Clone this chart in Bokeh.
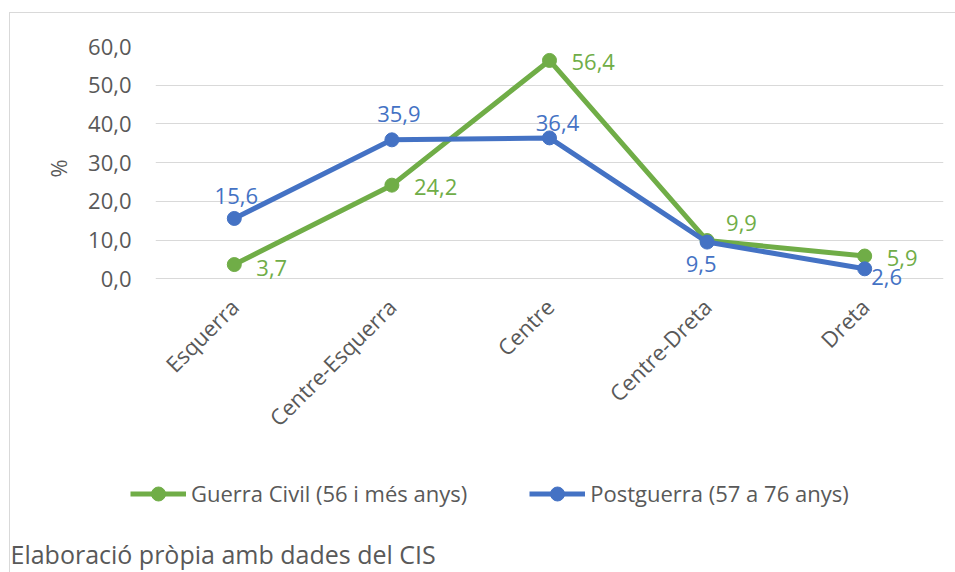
import math
from bokeh.plotting import figure
from bokeh.layouts import column
from bokeh.models import (FactorRange, Range1d, ColumnDataSource, Legend, LegendItem,
                          CustomJSTickFormatter, FixedTicker, Label)
from bokeh.core.properties import value
from bokeh.embed import file_html
from bokeh.resources import INLINE

# ---- data ----
categories = ["Esquerra", "Centre-Esquerra", "Centre", "Centre-Dreta", "Dreta"]
guerra_civil = [3.7, 24.2, 56.4, 9.9, 5.9]
postguerra = [15.6, 35.9, 36.4, 9.5, 2.6]
series_names = ["Guerra Civil (56 i més anys)", "Postguerra (57 a 76 anys)"]
y_ticks = [0, 10, 20, 30, 40, 50, 60]
y_label = "%"
footnote = "Elaboració pròpia amb dades del CIS"

# ---- styles ----
GREEN = "#70AD47"
BLUE = "#4472C4"
GREY = "#595959"
FONT = "Open Sans"
FS = "22px"
# label offsets (screen px; x right, y down)
green_dx = [22, 22, 22, 19, 22]
green_dy = [3, 2, 2, -18, 2]
blue_dx = [2, 7, 8, -6, 22]
blue_dy = [-22, -26, -15, 22, 8]

OX, OY = 10, 13  # content origin inside the bordered box
H2 = 112
H1 = 572 - OY - H2

p = figure(width=945, height=H1, output_backend="svg", toolbar_location=None,
           x_range=FactorRange(*categories), y_range=Range1d(-3, 60),
           min_border_left=155 - OX, min_border_right=12, min_border_top=46 - OY,
           min_border_bottom=H1 - (46 - OY) - 244)
p.outline_line_color = None
p.background_fill_color = "white"
p.border_fill_color = "white"

def fmt(v):
    return f"{v:.1f}".replace(".", ",")

src_g = ColumnDataSource(dict(x=categories, y=guerra_civil, t=[fmt(v) for v in guerra_civil],
                              dx=green_dx, dy=green_dy))
src_b = ColumnDataSource(dict(x=categories, y=postguerra, t=[fmt(v) for v in postguerra],
                              dx=blue_dx, dy=blue_dy))

def draw_series(fig, src, color):
    l = fig.line("x", "y", source=src, line_color=color, line_width=5)
    s = fig.scatter("x", "y", source=src, size=14, fill_color=color, line_color=color)
    return l, s

draw_series(p, src_g, GREEN)
draw_series(p, src_b, BLUE)

p.text("x", "y", text="t", source=src_g, x_offset="dx", y_offset="dy",
       text_color=GREEN, text_font=value(FONT), text_font_size=FS,
       text_align="left", text_baseline="middle")
p.text("x", "y", text="t", source=src_b, x_offset="dx", y_offset="dy",
       text_color=BLUE, text_font=value(FONT), text_font_size=FS,
       text_align="center", text_baseline="middle")

# axes
p.yaxis.ticker = FixedTicker(ticks=y_ticks)
p.yaxis.formatter = CustomJSTickFormatter(code="return tick.toFixed(1).replace('.', ',');")
p.yaxis.axis_label = y_label
p.yaxis.axis_label_text_font = FONT
p.yaxis.axis_label_text_font_size = FS
p.yaxis.axis_label_text_font_style = "normal"
p.yaxis.axis_label_text_color = GREY
p.yaxis.axis_label_standoff = 12
for ax in (p.xaxis, p.yaxis):
    ax.axis_line_color = None
    ax.major_tick_line_color = None
    ax.minor_tick_line_color = None
    ax.major_tick_out = 0
    ax.major_tick_in = 0
    ax.major_label_text_font = FONT
    ax.major_label_text_font_size = FS
    ax.major_label_text_color = GREY
p.yaxis.major_label_standoff = 24
p.xaxis.major_label_orientation = math.pi / 4
p.xaxis.major_label_standoff = 12

p.xgrid.grid_line_color = None
p.ygrid.ticker = FixedTicker(ticks=y_ticks)
p.ygrid.grid_line_color = "#d9d9d9"
p.ygrid.grid_line_width = 1

# ---- legend + footnote panel (separate root, its frame fills it) ----
q = figure(width=945, height=H2, output_backend="svg", toolbar_location=None,
           x_range=FactorRange(*categories), y_range=Range1d(1000, 1100),
           x_axis_location=None, y_axis_location=None,
           min_border=0, min_border_left=0, min_border_right=0,
           min_border_top=0, min_border_bottom=0)
q.grid.visible = False
q.outline_line_color = None
q.border_fill_color = "white"
q.background_fill_color = "white"
qlg, qsg = draw_series(q, src_g, GREEN)   # out of view: only their legend glyphs show
qlb, qsb = draw_series(q, src_b, BLUE)

LH = 35
legend = Legend(items=[LegendItem(label=series_names[0], renderers=[qlg, qsg]),
                       LegendItem(label=series_names[1], renderers=[qlb, qsb])],
                orientation="horizontal", location=(130 - OX, 572 - 493 - LH / 2),
                glyph_width=56, glyph_height=LH, label_height=LH,
                label_standoff=5, spacing=62, padding=0, margin=0,
                border_line_color=None, background_fill_alpha=0,
                label_text_font=FONT, label_text_font_size=FS,
                label_text_color=GREY)
q.add_layout(legend, "center")

q.add_layout(Label(x=0, y=572 - 553, x_units="screen", y_units="screen", text=footnote,
                   text_font=FONT, text_font_size="25px", text_color=GREY,
                   text_baseline="middle", text_align="left"))

top = column(p, margin=(OY - 1, 0, 0, OX - 1),
             styles={"border-top": "1px solid #d9d9d9",
                     "border-left": "1px solid #d9d9d9"})
bottom = column(q, margin=(0, 0, 0, OX - 1),
                styles={"border-left": "1px solid #d9d9d9"})

open("out.html", "w").write(file_html([top, bottom], INLINE))
